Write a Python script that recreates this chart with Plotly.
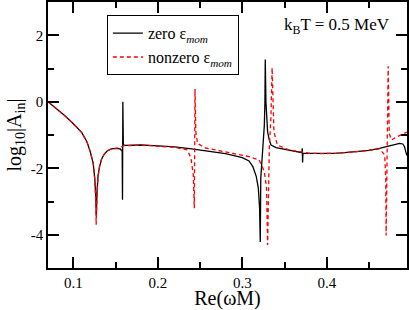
import plotly.graph_objects as go

# zero eps_mom (black solid)
x_zero = [0.070, 0.080, 0.090, 0.100, 0.110, 0.116, 0.120, 0.1235, 0.1255, 0.1266, 0.1272,
          0.1280, 0.1292, 0.1310, 0.1335, 0.1365, 0.140, 0.145, 0.150, 0.1555, 0.1578,
          0.1582, 0.1586, 0.1592, 0.162, 0.170, 0.180, 0.190, 0.200, 0.220, 0.240, 0.260,
          0.280, 0.290, 0.300, 0.308, 0.3125, 0.3166, 0.3190, 0.3205, 0.3213, 0.3219,
          0.3235, 0.3250, 0.3261, 0.3268, 0.3272, 0.3280, 0.3290, 0.3300, 0.3320, 0.3340,
          0.3400, 0.3477, 0.3556, 0.3675, 0.3706, 0.3710, 0.3714, 0.3718, 0.3800, 0.3955,
          0.4100, 0.4350, 0.4500, 0.4624, 0.4743, 0.4862, 0.4900, 0.4921, 0.4935, 0.4950]
y_zero = [0.00, -0.20, -0.42, -0.66, -0.93, -1.20, -1.50, -1.85, -2.35, -2.90, -3.45,
          -2.75, -2.25, -1.95, -1.72, -1.58, -1.48, -1.42, -1.40, -1.42, -1.48,
          -2.95, 0.00, -1.30, -1.31, -1.30, -1.30, -1.31, -1.32, -1.36, -1.42, -1.48,
          -1.56, -1.62, -1.68, -1.78, -1.95, -2.25, -2.60, -3.20, -4.22, -2.30,
          -1.75, -1.20, -0.71, 0.00, 1.27, 0.00, -0.60, -0.91, -1.15, -1.30,
          -1.38, -1.42, -1.47, -1.52, -1.53, -1.40, -1.83, -1.55, -1.55, -1.56,
          -1.55, -1.50, -1.46, -1.40, -1.32, -1.25, -1.27, -1.35, -1.50, -1.62]

# nonzero eps_mom (red dashed)
x_nonzero = [0.070, 0.080, 0.090, 0.100, 0.110, 0.116, 0.120, 0.1235, 0.1255, 0.1266, 0.1270,
             0.1280, 0.1292, 0.1310, 0.1335, 0.1365, 0.140, 0.145, 0.150, 0.1555, 0.160,
             0.170, 0.180, 0.190, 0.200, 0.220, 0.235, 0.2393, 0.2420, 0.2432, 0.2436,
             0.2440, 0.2450, 0.2470, 0.2550, 0.2689, 0.2900, 0.3080, 0.3200, 0.3260,
             0.3287, 0.3300, 0.3320, 0.3340, 0.3353, 0.3375, 0.3415, 0.3553, 0.3675,
             0.3800, 0.3955, 0.4100, 0.4350, 0.4500, 0.4624, 0.4686, 0.4698, 0.4703,
             0.4712, 0.4720, 0.4727, 0.4740, 0.4767, 0.4826, 0.4900, 0.4950]
y_nonzero = [0.00, -0.20, -0.42, -0.66, -0.93, -1.20, -1.50, -1.85, -2.35, -3.00, -3.70,
             -2.75, -2.25, -1.95, -1.72, -1.58, -1.48, -1.42, -1.40, -1.38, -1.32,
             -1.31, -1.31, -1.32, -1.33, -1.37, -1.45, -1.70, -2.20, -3.20, -1.60,
             0.38, -0.90, -1.25, -1.38, -1.45, -1.55, -1.65, -1.75, -2.09,
             -2.59, -4.31, -1.40, -0.41, 1.02, -0.91, -1.30, -1.45, -1.50,
             -1.55, -1.56, -1.55, -1.50, -1.46, -1.42, -1.60, -2.30, -4.02,
             -1.80, -0.60, 1.07, -0.96, -1.15, -1.06, -0.96, -0.91]

x_ticks = [0.1, 0.2, 0.3, 0.4]
x_tick_labels = ["0.1", "0.2", "0.3", "0.4"]
y_ticks = [-4, -2, 0, 2]
y_tick_labels = ["-4", "-2", "0", "2"]

FONT = "Liberation Serif, Times New Roman, Times, DejaVu Serif, serif"

fig = go.Figure()
fig.add_trace(go.Scatter(x=x_zero, y=y_zero, mode="lines",
                         line=dict(color="black", width=1.3),
                         name="zero ε<sub><i>mom</i></sub>"))
fig.add_trace(go.Scatter(x=x_nonzero, y=y_nonzero, mode="lines",
                         line=dict(color="red", width=1.3, dash="4px,3px"),
                         name="nonzero ε<sub><i>mom</i></sub>"))

axis_common = dict(
    showline=True, linecolor="black", linewidth=1.5, mirror="allticks",
    ticks="inside", ticklen=11, tickwidth=1.5, tickcolor="black",
    showgrid=False, zeroline=False,
    tickfont=dict(family=FONT, size=15, color="black"),
)

fig.update_xaxes(range=[0.07, 0.495], tickvals=x_ticks, ticktext=x_tick_labels,
                 minor=dict(ticks="inside", ticklen=6, dtick=0.05, tick0=0.05,
                            tickwidth=1.5, tickcolor="black", showgrid=False),
                 title=dict(text="Re(ωM)", font=dict(family=FONT, size=20, color="black"),
                            standoff=4),
                 **axis_common)
fig.update_yaxes(range=[-5, 3], tickvals=y_ticks, ticktext=y_tick_labels,
                 minor=dict(ticks="inside", ticklen=6, dtick=1, tick0=0,
                            tickwidth=1.5, tickcolor="black", showgrid=False),
                 title=dict(text="log<sub>10</sub>|A<sub>in</sub>|",
                            font=dict(family=FONT, size=20, color="black"), standoff=4),
                 **axis_common)

fig.add_annotation(x=0.957, y=0.86, xref="paper", yref="paper",
                   xanchor="right", yanchor="bottom", showarrow=False,
                   text="k<sub>B</sub>T = 0.5 MeV",
                   font=dict(family=FONT, size=17, color="black"))

fig.update_layout(
    width=409, height=310,
    margin=dict(l=48, r=2, t=0, b=42),
    plot_bgcolor="white", paper_bgcolor="white",
    showlegend=True,
    legend=dict(x=0.164, y=0.95, xanchor="left", yanchor="top",
                bordercolor="black", borderwidth=1, bgcolor="white",
                font=dict(family=FONT, size=16, color="black"),
                tracegroupgap=0, itemwidth=30),
)

fig.write_html("out.html", config={"displayModeBar": False},
               post_script="document.body.style.margin='0px';document.body.style.padding='0px';")
